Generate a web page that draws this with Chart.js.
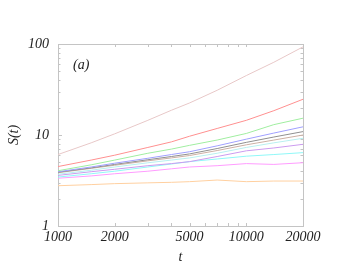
<!DOCTYPE html>
<html>
<head>
<meta charset="utf-8">
<script src="https://cdn.jsdelivr.net/npm/chart.js@4.4.0/dist/chart.umd.min.js"></script>
<style>
  body { margin: 0; background: #fff; }
  #wrap { width: 353px; height: 273px; }
</style>
</head>
<body>
<div id="wrap"><canvas id="c" width="353" height="273"></canvas></div>
<script>
// time points
const times = [1000, 1500, 2000, 3000, 4000, 5000, 7000, 10000, 14000, 20000];

// S(t) curves, top to bottom
const sPink      = [6.1, 8.2, 10.3, 14.5, 18.7, 22.5, 31, 45, 63, 93];
const sRed       = [4.5, 5.3, 6.0, 7.3, 8.4, 9.7, 11.8, 14.5, 18.5, 24.7];
const sGreen     = [4.05, 4.7, 5.3, 6.3, 7.0, 7.7, 8.8, 10.4, 13.0, 15.3];
const sBlue      = [3.95, 4.45, 4.9, 5.55, 6.1, 6.55, 7.6, 9.0, 10.5, 12.3];
const sGray      = [3.9, 4.35, 4.75, 5.35, 5.8, 6.2, 7.1, 8.3, 9.5, 10.9];
const sTan       = [3.85, 4.3, 4.65, 5.2, 5.6, 5.95, 6.75, 7.8, 8.8, 10.0];
const sLightCyan = [3.7, 4.1, 4.45, 4.95, 5.3, 5.6, 6.3, 7.3, 8.2, 9.2];
const sPurple    = [3.6, 3.95, 4.2, 4.6, 4.85, 5.1, 5.8, 6.7, 7.2, 7.9];
const sCyan      = [3.45, 3.75, 4.0, 4.45, 4.8, 5.1, 5.45, 5.85, 6.1, 6.4];
const sMagenta   = [3.35, 3.55, 3.75, 4.0, 4.25, 4.45, 4.6, 4.85, 4.75, 4.96];
const sOrange    = [2.77, 2.85, 2.92, 2.98, 3.02, 3.07, 3.2, 3.07, 3.12, 3.12];

// ticks
const xTicks = [1000, 2000, 3000, 4000, 5000, 6000, 7000, 8000, 9000, 10000, 20000];
const xLabels = [1000, 2000, 5000, 10000, 20000];
const yTicks = [1, 2, 3, 4, 5, 6, 7, 8, 9, 10, 20, 30, 40, 50, 60, 70, 80, 90, 100];
const yLabels = [1, 10, 100];

const series = [
  [sPink, '#e8c8c8'],
  [sRed, '#ff9090'],
  [sGreen, '#a0eea0'],
  [sBlue, '#a0a0ff'],
  [sGray, '#909090'],
  [sTan, '#ccb0a4'],
  [sLightCyan, '#b8f0f0'],
  [sPurple, '#cc9cf0'],
  [sCyan, '#90f8f8'],
  [sMagenta, '#ff9cff'],
  [sOrange, '#ffd0a0']
];

const font = "'Liberation Serif', 'DejaVu Serif', serif";

const frame = {
  id: 'frame',
  beforeDatasetsDraw(chart) {
    const {ctx, chartArea: a, scales: {x, y}} = chart;
    ctx.save();
    ctx.strokeStyle = '#c4c4c4';
    ctx.lineWidth = 1;
    ctx.strokeRect(Math.round(a.left) + 0.5, Math.round(a.top) + 0.5,
      Math.round(a.right - a.left), Math.round(a.bottom - a.top));
    ctx.beginPath();
    xTicks.forEach(v => {
      const px = Math.round(x.getPixelForValue(v)) + 0.5;
      const len = 3;
      ctx.moveTo(px, a.bottom); ctx.lineTo(px, a.bottom - len);
      ctx.moveTo(px, a.top); ctx.lineTo(px, a.top + len);
    });
    yTicks.forEach(v => {
      const py = Math.round(y.getPixelForValue(v)) + 0.5;
      const len = yLabels.includes(v) ? 4 : 2.5;
      ctx.moveTo(a.left, py); ctx.lineTo(a.left + len, py);
      ctx.moveTo(a.right, py); ctx.lineTo(a.right - len, py);
    });
    ctx.stroke();
    ctx.fillStyle = '#222';
    ctx.font = 'italic 14px ' + font;
    ctx.textAlign = 'left';
    ctx.textBaseline = 'middle';
    ctx.fillText('(a)', a.left + 15, a.top + 21);
    ctx.restore();
  }
};

new Chart(document.getElementById('c'), {
  type: 'line',
  data: {
    datasets: series.map(([vals, col], i) => ({
      label: 'curve ' + (i + 1),
      data: times.map((t, k) => ({x: t, y: vals[k]})),
      borderColor: col,
      borderWidth: 1,
      pointRadius: 0,
      tension: 0,
      fill: false
    }))
  },
  options: {
    responsive: false,
    animation: false,
    layout: {padding: {top: 44, right: 50, left: 0, bottom: 0}},
    plugins: {legend: {display: false}, tooltip: {enabled: false}},
    scales: {
      x: {
        type: 'logarithmic',
        min: 1000, max: 20000,
        afterBuildTicks: s => { s.ticks = xTicks.map(v => ({value: v})); },
        afterFit: s => { s.height = 47; },
        grid: {display: false, drawTicks: false, tickLength: 0},
        border: {display: false},
        ticks: {
          autoSkip: false, maxRotation: 0, padding: 3,
          color: '#222', font: {family: font, size: 14, style: 'italic'},
          callback: v => xLabels.includes(v) ? String(v) : ''
        },
        title: {display: true, text: 't', color: '#222', padding: {top: 0, bottom: 7},
          font: {family: font, size: 14, style: 'italic'}}
      },
      y: {
        type: 'logarithmic',
        min: 1, max: 100,
        afterBuildTicks: s => { s.ticks = yTicks.map(v => ({value: v})); },
        afterFit: s => { s.width = 58; },
        grid: {display: false, drawTicks: false, tickLength: 0},
        border: {display: false},
        ticks: {
          autoSkip: false, padding: 9,
          color: '#222', font: {family: font, size: 14, style: 'italic'},
          callback: v => yLabels.includes(v) ? String(v) : ''
        },
        title: {display: true, text: 'S(t)', color: '#222', padding: {top: 6, bottom: 0},
          font: {family: font, size: 14, style: 'italic'}}
      }
    }
  },
  plugins: [frame]
});
</script>
</body>
</html>
